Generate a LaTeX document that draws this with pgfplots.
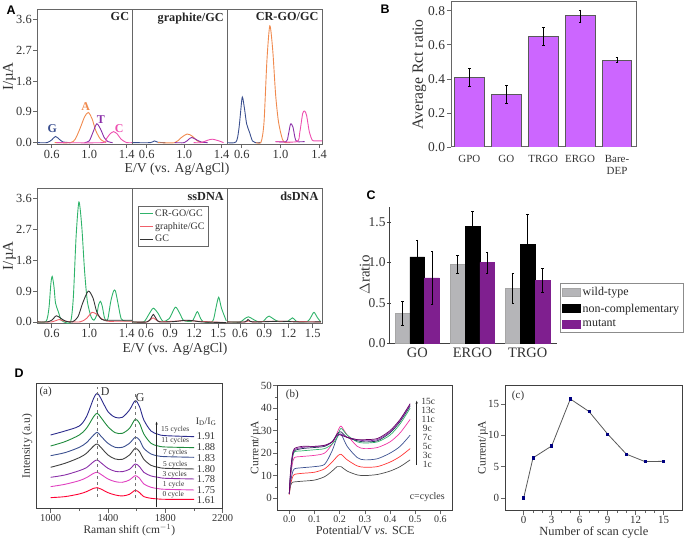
\documentclass[border=0pt]{standalone}
\usepackage{pgfplots}
\pgfplotsset{compat=1.18}
\usepackage{fontspec}
\setmainfont{Liberation Serif}
\newfontfamily\panelfont{Liberation Sans}
\usetikzlibrary{arrows.meta}

\definecolor{frame}{HTML}{666666}
\definecolor{gnavy}{HTML}{3A4F8F}
\definecolor{aorange}{HTML}{F08A4E}
\definecolor{tpurple}{HTML}{8A2FA8}
\definecolor{cpink}{HTML}{EE4FB0}
\definecolor{crgreen}{HTML}{2FB36A}
\definecolor{grred}{HTML}{F0606A}
\definecolor{gcblack}{HTML}{333333}
\definecolor{barB}{HTML}{CC66FF}
\definecolor{wildgray}{HTML}{B5B5B8}
\definecolor{mutant}{HTML}{7F1F8F}
\definecolor{deepnavy}{HTML}{2B2B8C}
\definecolor{ramangreen}{HTML}{1E8A3C}
\definecolor{ramanpink}{HTML}{E040C0}

\tikzset{
  ptag/.style={font=\fontsize{12.3}{13}\selectfont\bfseries, anchor=north east, text=black!85, inner sep=1.5pt},
  lbl/.style={font=\fontsize{#1}{#1}\selectfont, text=black!80, inner sep=0pt},
  letter/.style={font=\panelfont\bfseries\fontsize{12.5}{13}\selectfont},
  base/.style={font=\fontsize{12}{12}\selectfont\bfseries, text=#1},
}
% every axis is placed by its lower left corner, in pixels of the reference
\pgfplotsset{
  every axis/.append style={
    scale only axis, anchor=south west, axis line style={frame, line width=0.9pt},
    tick style={frame, line width=0.6pt},
    tick align=outside, tick pos=left,
    /pgf/number format/assume math mode=true,
    tick label style={font=\fontsize{12.5}{13}\selectfont, inner sep=1.5pt, text=black!80},
    label style={font=\fontsize{13.7}{14}\selectfont, text=black!80},
  },
  onedec/.style={/pgf/number format/fixed, /pgf/number format/precision=1, /pgf/number format/fixed zerofill},
  cvpanel/.style={
    width=#1, height=135bp, ymin=-0.04, ymax=3.9,
    ytick={0,0.9,1.8,2.7,3.6}, yticklabel style={onedec}, xticklabel style={onedec},
    xlabel style={yshift=0bp},
  },
  cv/.style={smooth, tension=0.45, line width=0.9pt, no markers},
  bigI/.style={ylabel={I/\textmu A}, ylabel style={font=\fontsize{15}{15}\selectfont, yshift=-5bp}},
}

\begin{document}
\begin{tikzpicture}
\path[use as bounding box] (0,0) rectangle (685bp,538bp);

% ---------- A, top row
\begin{axis}[at={(37.7bp,394bp)}, cvpanel=95bp, xmin=0.45, xmax=1.464, xtick={0.6,1.0,1.4}, bigI]
\addplot[cv, gnavy] coordinates {(0.45,0) (0.55,0) (0.6,0.08) (0.64,0.18) (0.68,0.1) (0.72,0.02) (0.8,0)};
\addplot[cv, aorange] coordinates {(0.63,0) (0.8,0) (0.85,0.1) (0.9,0.4) (0.95,0.75) (0.99,0.88) (1.03,0.7) (1.07,0.35) (1.12,0.1) (1.18,0)};
\addplot[cv, tpurple] coordinates {(0.95,0) (1.0,0.05) (1.04,0.3) (1.08,0.55) (1.12,0.4) (1.16,0.15) (1.2,0.03) (1.25,0)};
\addplot[cv, cpink] coordinates {(0.65,0) (1.14,0) (1.18,0.1) (1.22,0.25) (1.26,0.32) (1.3,0.25) (1.34,0.1) (1.4,0) (1.46,0)};
\node[ptag] at (rel axis cs:0.98,0.985) {GC};
\node[base=gnavy] at (axis cs:0.606,0.4) {G};
\node[base=aorange] at (axis cs:0.962,1.04) {A};
\node[base=tpurple] at (axis cs:1.125,0.67) {T};
\node[base=cpink] at (axis cs:1.32,0.41) {C};
\end{axis}
\begin{axis}[at={(132.7bp,394bp)}, cvpanel=94.6bp, xmin=0.45, xmax=1.46, xtick={0.6,1.0,1.4}, yticklabels={}, y tick style={draw=none}, xlabel={E/V (vs. Ag/AgCl)}, xlabel style={xshift=-3bp}]
\addplot[cv, gnavy] coordinates {(0.45,0) (0.64,0) (0.68,0.05) (0.72,0.01) (0.8,0)};
\addplot[cv, aorange] coordinates {(0.72,0) (0.9,0) (0.97,0.15) (1.03,0.25) (1.08,0.2) (1.14,0.05) (1.2,0)};
\addplot[cv, tpurple] coordinates {(0.9,0) (1.0,0) (1.05,0.1) (1.08,0.15) (1.12,0.1) (1.18,0.02) (1.25,0)};
\addplot[cv, cpink] coordinates {(1.1,0) (1.18,0) (1.25,0.07) (1.3,0.1) (1.36,0.06) (1.42,0)};
\node[ptag] at (rel axis cs:0.98,0.985) {graphite/GC};
\end{axis}
\begin{axis}[at={(227.3bp,394bp)}, cvpanel=94.7bp, xmin=0.45, xmax=1.43, xtick={0.6,1.0,1.4}, yticklabels={}, y tick style={draw=none}]
\addplot[cv, gnavy] coordinates {(0.45,0) (0.54,0.02) (0.57,0.4) (0.6,1.25) (0.61,1.3) (0.63,0.95) (0.65,0.55) (0.68,0.3) (0.71,0.05) (0.74,0) (0.8,0)};
\addplot[cv, aorange] coordinates {(0.75,0) (0.8,0.02) (0.83,0.6) (0.86,2.4) (0.89,3.41) (0.92,2.7) (0.95,1.4) (0.98,0.6) (1.02,0.1) (1.05,0) (1.1,0)};
\addplot[cv, tpurple] coordinates {(0.95,0.03) (1.06,0.03) (1.08,0.2) (1.1,0.5) (1.11,0.55) (1.13,0.45) (1.15,0.15) (1.17,0.03) (1.25,0.03)};
\addplot[cv, cpink] coordinates {(0.95,0.03) (1.17,0.03) (1.2,0.3) (1.23,0.85) (1.25,0.92) (1.27,0.8) (1.3,0.3) (1.33,0.07) (1.36,0.05) (1.43,0.05)};
\node[ptag] at (rel axis cs:0.98,0.985) {CR-GO/GC};
\end{axis}

% ---------- A, bottom row
\begin{axis}[at={(37.7bp,214.7bp)}, cvpanel=95bp, xmin=0.45, xmax=1.464, xtick={0.6,1.0,1.4}, bigI]
\addplot[cv, crgreen] coordinates {(0.45,0) (0.54,0.02) (0.57,0.4) (0.59,1.1) (0.605,1.33) (0.625,1.0) (0.64,0.55) (0.67,0.3) (0.7,0.05) (0.73,0) (0.8,0) (0.83,0.7) (0.86,2.5) (0.89,3.5) (0.92,2.8) (0.95,1.5) (0.98,0.6) (1.02,0.15) (1.05,0.05) (1.08,0.2) (1.1,0.5) (1.12,0.6) (1.14,0.45) (1.16,0.15) (1.18,0.03) (1.2,0.1) (1.23,0.6) (1.26,0.9) (1.28,0.9) (1.31,0.5) (1.34,0.1) (1.38,0.03) (1.46,0.03)};
\addplot[cv, grred] coordinates {(0.45,0) (0.6,0) (0.68,0.07) (0.74,0.02) (0.9,0) (0.97,0.1) (1.03,0.28) (1.08,0.22) (1.14,0.08) (1.2,0.02) (1.3,0.02) (1.46,0.02)};
\addplot[cv, gcblack] coordinates {(0.45,0) (0.55,0) (0.6,0.05) (0.65,0.18) (0.7,0.1) (0.75,0.02) (0.82,0) (0.88,0.15) (0.93,0.55) (0.99,0.9) (1.04,0.7) (1.08,0.3) (1.13,0.08) (1.2,0.05) (1.46,0.05)};
\end{axis}
\begin{axis}[at={(132.7bp,214.7bp)}, cvpanel=94.6bp, xmin=0.434, xmax=1.6125, xtick={0.6,0.9,1.2,1.5}, yticklabels={}, y tick style={draw=none}, xlabel={E/V (vs. Ag/AgCl)}, xlabel style={xshift=-5bp},
  legend style={at={(0.052,0.87)}, anchor=north west, draw=frame, font=\fontsize{10}{10}\selectfont, text=black!80, inner sep=1.5pt, row sep=0.5pt, cells={anchor=west}}, legend cell align=left,
  legend image code/.code={\draw[#1] (0bp,0bp) -- (13bp,0bp);}]
\addplot[cv, crgreen] coordinates {(0.434,0) (0.57,0) (0.63,0.2) (0.69,0.4) (0.75,0.25) (0.81,0.02) (0.89,0.1) (0.965,0.43) (1.02,0.25) (1.07,0.04) (1.17,0.02) (1.2,0.12) (1.24,0.3) (1.28,0.1) (1.32,0) (1.43,0.02) (1.47,0.4) (1.505,0.72) (1.54,0.4) (1.6,0.03)};
\addplot[cv, grred] coordinates {(0.434,0) (0.61,0) (0.69,0.12) (0.76,0.01) (0.95,0.02) (1.1,0.04) (1.25,0.02) (1.6,-0.02)};
\addplot[cv, gcblack] coordinates {(0.434,0) (0.61,0) (0.66,0.1) (0.69,0.22) (0.73,0.08) (0.77,0) (0.95,0.01) (1.1,0.05) (1.2,0.03) (1.3,0) (1.6,-0.02)};
\legend{CR-GO/GC, graphite/GC, GC}
\node[ptag] at (rel axis cs:0.98,0.985) {ssDNA};
\end{axis}
\begin{axis}[at={(227.3bp,214.7bp)}, cvpanel=94.7bp, xmin=0.443, xmax=1.615, xtick={0.6,0.9,1.2,1.5}, yticklabels={}, y tick style={draw=none}]
\addplot[cv, crgreen] coordinates {(0.443,0) (0.6,0) (0.65,0.08) (0.703,0.15) (0.76,0.08) (0.83,0) (0.89,0.02) (0.93,0.13) (0.96,0.17) (1.02,0.08) (1.08,0.01) (1.19,0.02) (1.25,0.12) (1.29,0.03) (1.34,0) (1.44,0.02) (1.48,0.15) (1.516,0.28) (1.56,0.12) (1.6,0)};
\addplot[cv, grred] coordinates {(0.443,0) (0.66,0) (0.7,0.03) (0.76,0) (1.0,0.02) (1.6,0)};
\addplot[cv, gcblack] coordinates {(0.443,0) (0.66,0) (0.7,0.07) (0.76,0) (1.1,0.02) (1.3,0) (1.6,0)};
\node[ptag] at (rel axis cs:0.98,0.985) {dsDNA};
\end{axis}

% ---------- B
\begin{axis}[at={(451bp,391bp)}, width=185bp, height=145.3bp, xmin=-0.5, xmax=4.515, ymin=0, ymax=0.853,
  axis line style={frame, line width=1pt}, ytick={0,0.2,0.4,0.6,0.8},
  yticklabel style={onedec, font=\fontsize{13.5}{14}\selectfont},
  xtick={0,1,2,3,4}, xticklabels={GPO,GO,TRGO,ERGO,{Bare-\\DEP}}, xticklabel style={font=\fontsize{11}{12}\selectfont, align=center, yshift=-2bp}, x tick style={draw=none},
  ylabel={Average Rct ratio}, ylabel style={font=\fontsize{15.7}{16}\selectfont, yshift=-3bp}]
\addplot[ybar, bar width=29.7bp, fill=barB, draw=black!65, line width=0.9pt,
  error bars/.cd, y dir=both, y explicit, error bar style={black, line width=0.8pt}, error mark options={rotate=90, mark size=1.3pt, black}]
  coordinates {(0,0.41) +- (0,0.052) (1,0.31) +- (0,0.052) (2,0.65) +- (0,0.052) (3,0.77) +- (0,0.035) (4,0.51) +- (0,0.015)};
\end{axis}

% ---------- C
\begin{axis}[at={(389.3bp,194.7bp)}, width=167.4bp, height=136.6bp, xmin=-0.507, xmax=2.526, ymin=0, ymax=1.69,
  axis x line=bottom, axis y line=left, axis line style={black!75, line width=0.8pt, -}, tick style={black!75},
  ybar=0pt, bar width=14.8bp, ytick={0,0.5,1,1.5}, xtick={0,1,2}, xticklabels={GO,ERGO,TRGO},
  x tick style={draw=none},
  yticklabel style={onedec, font=\fontsize{13.5}{14}\selectfont},
  xticklabel style={font=\fontsize{14.5}{15}\selectfont, yshift=1bp},
  ylabel={$\Delta$ratio}, ylabel style={font=\fontsize{15}{15}\selectfont, yshift=-6bp},
  legend style={at={(1.02,0.439)}, anchor=north west, draw=black!45, font=\fontsize{12}{12}\selectfont, text=black!85, inner sep=2pt, row sep=2.5pt, cells={anchor=west}},
  legend cell align=left,
  legend image code/.code={\draw[#1] (0bp,-4bp) rectangle (18bp,4bp);}]
\addplot[fill=wildgray, draw=black!35, line width=0.5pt, error bars/.cd, y dir=both, y explicit, error bar style={black, line width=0.8pt}, error mark options={rotate=90, mark size=1.2pt, black}]
  coordinates {(0,0.37) +- (0,0.15) (1,0.98) +- (0,0.11) (2,0.68) +- (0,0.185)};
\addplot[fill=black, draw=black, line width=0.5pt, error bars/.cd, y dir=both, y explicit, error bar style={black, line width=0.8pt}, error mark options={rotate=90, mark size=1.2pt, black}]
  coordinates {(0,1.07) +- (0,0.21) (1,1.45) +- (0,0.18) (2,1.22) +- (0,0.38)};
\addplot[fill=mutant, draw=mutant, line width=0.5pt, error bars/.cd, y dir=both, y explicit, error bar style={black, line width=0.8pt}, error mark options={rotate=90, mark size=1.2pt, black}]
  coordinates {(0,0.81) +- (0,0.325) (1,1.0) +- (0,0.13) (2,0.78) +- (0,0.15)};
\legend{wild-type, non-complementary, mutant}
\end{axis}

% ---------- D(a), y is just a height in arbitrary units
\begin{axis}[at={(36bp,29.7bp)}, width=186.7bp, height=124.3bp, xmin=898, xmax=2200, ymin=0, ymax=373,
  axis line style={black!75, line width=1pt}, ytick=\empty, xtick={1000,1400,1800,2200}, minor x tick num=1,
  xticklabel style={/pgf/number format/set thousands separator={}, font=\fontsize{10.5}{11}\selectfont},
  xlabel={Raman shift (cm$^{-1}$)}, ylabel={Intensity (a.u)}, xlabel style={font=\fontsize{11.5}{12}\selectfont, yshift=2bp}, ylabel style={font=\fontsize{11.5}{12}\selectfont, yshift=-4bp}]
\pgfplotsset{raman/.style={smooth, tension=0.5, line width=0.9pt, no markers}}
\addplot[raman, red!80!magenta] coordinates {(1000,32) (1100,35) (1200,43) (1250,50) (1300,60) (1325,62) (1350,58) (1400,47) (1450,40) (1500,37) (1550,42) (1590,54) (1620,47) (1650,35) (1700,30) (1750,28) (1800,27) (2000,27)};
\addplot[raman, ramanpink] coordinates {(1000,65) (1100,72) (1200,83) (1250,92) (1300,105) (1325,108) (1350,102) (1400,88) (1450,80) (1500,78) (1550,85) (1590,98) (1620,90) (1650,73) (1700,63) (1750,59) (1800,57) (2000,55)};
\addplot[raman, tpurple] coordinates {(1000,93) (1100,100) (1200,113) (1250,122) (1300,140) (1325,145) (1350,137) (1400,120) (1450,111) (1500,110) (1550,117) (1590,133) (1620,125) (1650,108) (1700,97) (1750,93) (1800,90) (2000,88)};
\addplot[raman, black!75] coordinates {(1000,123) (1100,135) (1200,152) (1250,165) (1300,187) (1325,193) (1350,183) (1400,160) (1450,148) (1500,147) (1550,160) (1590,180) (1620,170) (1650,147) (1700,129) (1750,123) (1800,120) (2000,118)};
\addplot[raman, gnavy] coordinates {(1000,158) (1100,167) (1200,183) (1250,197) (1300,220) (1325,228) (1350,217) (1400,195) (1450,183) (1500,183) (1550,195) (1590,213) (1620,205) (1650,180) (1700,163) (1750,157) (1800,155) (2000,153)};
\addplot[raman, ramangreen] coordinates {(1000,187) (1100,200) (1200,220) (1250,240) (1300,275) (1325,285) (1350,273) (1400,245) (1450,227) (1500,225) (1550,240) (1590,267) (1620,255) (1650,223) (1700,195) (1750,187) (1800,184) (2000,182)};
\addplot[raman, deepnavy] coordinates {(1000,220) (1100,232) (1200,247) (1250,275) (1300,330) (1325,345) (1350,330) (1400,290) (1450,273) (1500,273) (1550,295) (1590,323) (1620,305) (1650,265) (1700,232) (1750,222) (1800,218) (2000,215)};
\addplot[dashed, black!55, line width=0.6pt] coordinates {(1328,35) (1328,365)};
\addplot[dashed, black!55, line width=0.6pt] coordinates {(1587,30) (1587,345)};
\addplot[-{Stealth[length=3pt]}, black!85, line width=0.7pt] coordinates {(1739,3) (1739,260)};
\node[lbl=11] at (axis cs:965,348) {(a)};
\node[lbl=12] at (axis cs:1381,350) {D};
\node[lbl=12] at (axis cs:1625,332) {G};
\node[lbl=10] at (axis cs:2084,260) {I$_\mathrm{D}$/I$_\mathrm{G}$};
\node[lbl=7.5] at (axis cs:1869,235) {15 cycles};
\node[lbl=7.5] at (axis cs:1869,202) {11 cycles};
\node[lbl=7.5] at (axis cs:1869,168) {7 cycles};
\node[lbl=7.5] at (axis cs:1869,131) {5 cycles};
\node[lbl=7.5] at (axis cs:1865,102) {3 cycles};
\node[lbl=7.5] at (axis cs:1858,72) {1 cycle};
\node[lbl=7.5] at (axis cs:1855,42) {0 cycle};
\node[lbl=10.5] at (axis cs:2084,218) {1.91};
\node[lbl=10.5] at (axis cs:2084,183) {1.88};
\node[lbl=10.5] at (axis cs:2084,151) {1.83};
\node[lbl=10.5] at (axis cs:2084,118) {1.80};
\node[lbl=10.5] at (axis cs:2084,87) {1.78};
\node[lbl=10.5] at (axis cs:2084,55) {1.75};
\node[lbl=10.5] at (axis cs:2084,25) {1.61};
\end{axis}

% ---------- D(b)
\begin{axis}[at={(277.7bp,28bp)}, width=175bp, height=125bp, xmin=-0.046, xmax=0.649, ymin=-5.3, ymax=50.3,
  axis line style={black!75, line width=1pt}, xtick={0,0.1,0.2,0.3,0.4,0.5,0.6}, ytick={0,10,20,30,40,50}, minor y tick num=1,
  xticklabel style={onedec, font=\fontsize{10}{10}\selectfont},
  yticklabel style={font=\fontsize{11}{11}\selectfont},
  xlabel={Potential/V \textit{vs.} SCE}, ylabel={Current/\textmu A},
  xlabel style={font=\fontsize{12.3}{13}\selectfont, yshift=2bp}, ylabel style={font=\fontsize{11.5}{12}\selectfont, yshift=-5bp}]
\pgfplotsset{curr/.style={smooth, tension=0.45, line width=0.7pt, no markers}}
\addplot[curr, black!70] coordinates {(0,2) (0.005,5.5) (0.012,7) (0.02,7.2) (0.05,7.5) (0.1,8) (0.14,9.5) (0.17,12) (0.19,14) (0.205,14) (0.23,12) (0.27,10.3) (0.3,10) (0.35,10.5) (0.4,12) (0.44,14) (0.48,17)};
\addplot[curr, red!80] coordinates {(0,1.5) (0.005,6) (0.012,9) (0.02,10.5) (0.05,11) (0.1,11.5) (0.14,13) (0.17,16) (0.19,18.5) (0.205,19.5) (0.23,17) (0.27,14.3) (0.3,13.7) (0.35,14) (0.4,16) (0.44,18.5) (0.48,22)};
\addplot[curr, gnavy] coordinates {(0,2) (0.005,7) (0.012,11) (0.02,13) (0.05,13.5) (0.1,14) (0.14,15) (0.17,21) (0.19,27) (0.205,28.5) (0.23,23) (0.27,18) (0.3,17) (0.35,17.5) (0.4,20) (0.44,23) (0.48,28)};
\addplot[curr, magenta!80] coordinates {(0,2) (0.005,9) (0.012,15) (0.02,18) (0.05,18.5) (0.1,19) (0.14,20) (0.17,24) (0.19,29) (0.205,32) (0.23,28) (0.27,23) (0.3,22) (0.35,22.5) (0.4,25) (0.44,29) (0.48,35)};
\addplot[curr, crgreen] coordinates {(0,2) (0.005,10) (0.012,17) (0.02,20.5) (0.05,21) (0.1,21.5) (0.14,22) (0.17,24) (0.19,27) (0.205,31) (0.23,28) (0.27,25) (0.3,24.5) (0.35,25) (0.4,28) (0.44,33) (0.48,40)};
\addplot[curr, gnavy!60!black] coordinates {(0,2) (0.005,11) (0.012,18) (0.02,21) (0.05,22) (0.1,22.5) (0.14,23) (0.17,25) (0.19,28.5) (0.205,29.5) (0.23,27) (0.27,25.5) (0.3,25) (0.35,25.5) (0.4,29) (0.44,34) (0.48,41)};
\addplot[curr, tpurple] coordinates {(0,2) (0.005,11) (0.012,18.5) (0.02,21.5) (0.05,22.5) (0.1,23) (0.14,23.3) (0.17,25) (0.19,28) (0.205,28.5) (0.23,27) (0.27,26) (0.3,25.5) (0.35,26) (0.4,29.5) (0.44,34.5) (0.48,41.5)};
\addplot[curr, violet!80!black] coordinates {(0,2) (0.005,12) (0.012,19) (0.02,22) (0.05,23) (0.1,23) (0.14,23.5) (0.17,25) (0.19,28) (0.205,28) (0.23,27) (0.27,26) (0.3,26) (0.35,26.5) (0.4,30) (0.44,35) (0.48,42)};
\addplot[-{Stealth[length=3pt]}, black!85, line width=0.7pt] coordinates {(0.506,14.7) (0.506,43.3)};
\node[lbl=11] at (axis cs:0.012,46) {(b)};
\node[lbl=10] at (axis cs:0.548,0.3) {c=cycles};
\node[lbl=9.5] at (axis cs:0.552,42.8) {15c};
\node[lbl=9.5] at (axis cs:0.552,38.8) {13c};
\node[lbl=9.5] at (axis cs:0.552,34.8) {11c};
\node[lbl=9.5] at (axis cs:0.548,30.8) {9c};
\node[lbl=9.5] at (axis cs:0.548,26.8) {7c};
\node[lbl=9.5] at (axis cs:0.548,22.8) {5c};
\node[lbl=9.5] at (axis cs:0.548,18.8) {3c};
\node[lbl=9.5] at (axis cs:0.548,14.8) {1c};
\end{axis}

% ---------- D(c)
\begin{axis}[at={(505bp,27.7bp)}, width=177.7bp, height=125.3bp, xmin=-2, xmax=17.04, ymin=-1.97, ymax=18.03,
  axis line style={black!75, line width=1pt}, xtick={0,3,6,9,12,15}, ytick={0,5,10,15}, minor x tick num=2,
  xticklabel style={font=\fontsize{11}{11}\selectfont}, yticklabel style={font=\fontsize{11}{11}\selectfont},
  xlabel={Number of scan cycle}, ylabel={Current/\textmu A},
  xlabel style={font=\fontsize{12.5}{13}\selectfont, yshift=2bp}, ylabel style={font=\fontsize{11.5}{12}\selectfont, yshift=-5bp}]
\addplot[black!65, line width=0.8pt, mark=square*, mark size=1.1pt, mark options={fill=blue!50!black, draw=blue!50!black}]
  coordinates {(0,0) (1,6.4) (3,8.3) (5,15.8) (7,13.8) (9,10.2) (11,7) (13,5.8) (15,5.85)};
\node[lbl=11] at (axis cs:-0.6,16.3) {(c)};
\end{axis}

% panel letters
\node[letter] at (11bp,528bp) {A};
\node[letter] at (385bp,529bp) {B};
\node[letter] at (371bp,343bp) {C};
\node[letter] at (19bp,165bp) {D};
\end{tikzpicture}
\end{document}
